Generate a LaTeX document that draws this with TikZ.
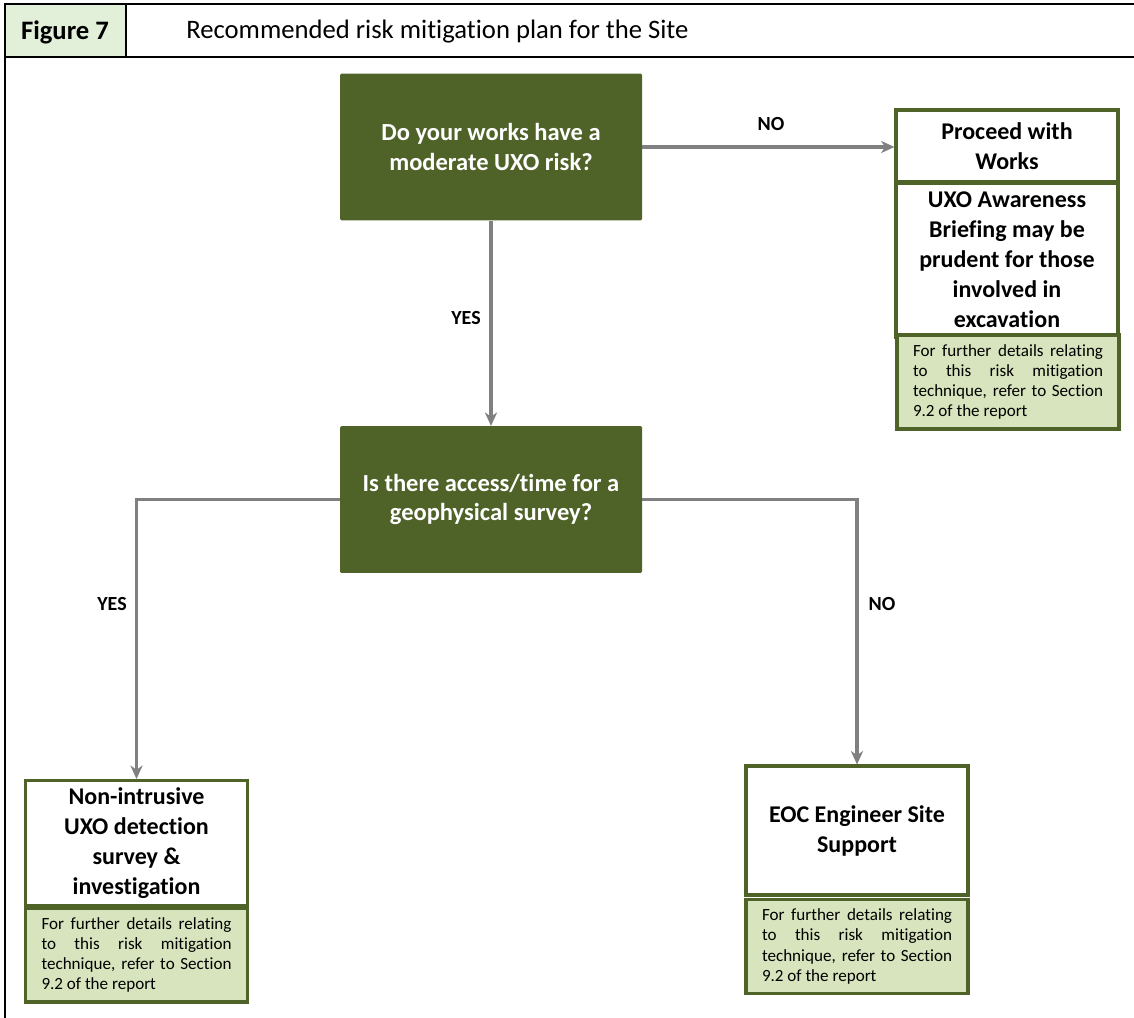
\documentclass[tikz,border=0pt]{standalone}
\usepackage{fontspec}
\setmainfont{Carlito}[Ligatures=NoCommon,RawFeature={-calt;-dlig}]
\usetikzlibrary{arrows.meta}
\definecolor{olive}{HTML}{4F6228}
\definecolor{notegreen}{HTML}{D7E4BD}
\definecolor{headgreen}{HTML}{E2EFD9}
\definecolor{linegray}{HTML}{808080}
\begin{document}
\begin{tikzpicture}[x=0.75pt,y=-0.75pt,
    question/.style={rectangle, rounded corners=1pt, fill=olive, text=white, font=\fontsize{18.4}{22}\selectfont\bfseries, align=center, minimum width=226.5pt, minimum height=110pt, inner sep=0pt},
    outcome/.style={rectangle, draw=olive, line width=2.3pt, fill=white, font=\fontsize{18}{22.5}\selectfont\bfseries, align=center, minimum width=166.5pt, inner sep=0pt},
    note/.style={rectangle, draw=olive, line width=2.3pt, fill=notegreen, font=\fontsize{12.8}{15.2}\selectfont, text width=142.5pt, align=justify, minimum width=166.5pt, minimum height=70.5pt, inner xsep=12pt, inner ysep=0pt},
    flow/.style={draw=linegray, line width=2.5pt, -{Stealth[length=10pt,width=9pt,inset=3pt]}},
    answer/.style={font=\fontsize{15}{18}\selectfont\bfseries}]
  \useasboundingbox (0,0) rectangle (1134,1017);
  % Frame and header
  \fill[headgreen] (5,4) rectangle (126,57);
  \draw[line width=2.2pt] (1136,4) -- (5,4) -- (5,1020);
  \draw[line width=2.2pt] (5,57) -- (1136,57);
  \draw[line width=1.2pt] (126,4) -- (126,57);
  \node (fig) at (65,32) {\fontsize{20}{22}\selectfont\bfseries Figure 7};
  \node[anchor=west, inner sep=0pt] (title) at (186,32) {\fontsize{20}{22}\selectfont Recommended risk mitigation plan for the Site};
  % Questions
  \node[question] (q1) at (491,147) {Do your works have a\\moderate UXO risk?};
  \node[question] (q2) at (491,499.5) {Is there access/time for a\\geophysical survey?};
  % Outcomes (top right)
  \node[outcome, minimum height=54pt] (proceed) at (1007,146) {Proceed with\\Works};
  \node[outcome, minimum height=115.5pt] (briefing) at (1007,260) {UXO Awareness\\Briefing may be\\prudent for those\\involved in\\excavation};
  \node[note] (note1) at (1008,382) {For further details relating\linebreak to this risk mitigation\linebreak technique, refer to Section\linebreak 9.2 of the report};
  % Outcomes (bottom)
  \node[outcome, minimum height=93.75pt] (survey) at (136.5,843) {Non-intrusive\\UXO detection\\survey \&\\investigation};
  \node[note] (note2) at (136.5,955) {For further details relating\linebreak to this risk mitigation\linebreak technique, refer to Section\linebreak 9.2 of the report};
  \node[outcome, minimum height=96.75pt] (eoc) at (857,830.5) {EOC Engineer Site\\Support};
  \node[note] (note3) at (857,946.5) {For further details relating\linebreak to this risk mitigation\linebreak technique, refer to Section\linebreak 9.2 of the report};
  % Connectors
  \draw[flow] (q1.east) -- (q1.east -| proceed.west);
  \draw[flow] (q1.south) -- (q2.north);
  \draw[flow] (q2.west) -| (survey.north);
  \draw[flow] (q2.east) -| (eoc.north);
  % Answers
  \node[answer] (no1) at (771,124) {NO};
  \node[answer] (yes1) at (466,318) {YES};
  \node[answer] (yes2) at (112,604) {YES};
  \node[answer] (no2) at (882,604) {NO};
\end{tikzpicture}
\end{document}
